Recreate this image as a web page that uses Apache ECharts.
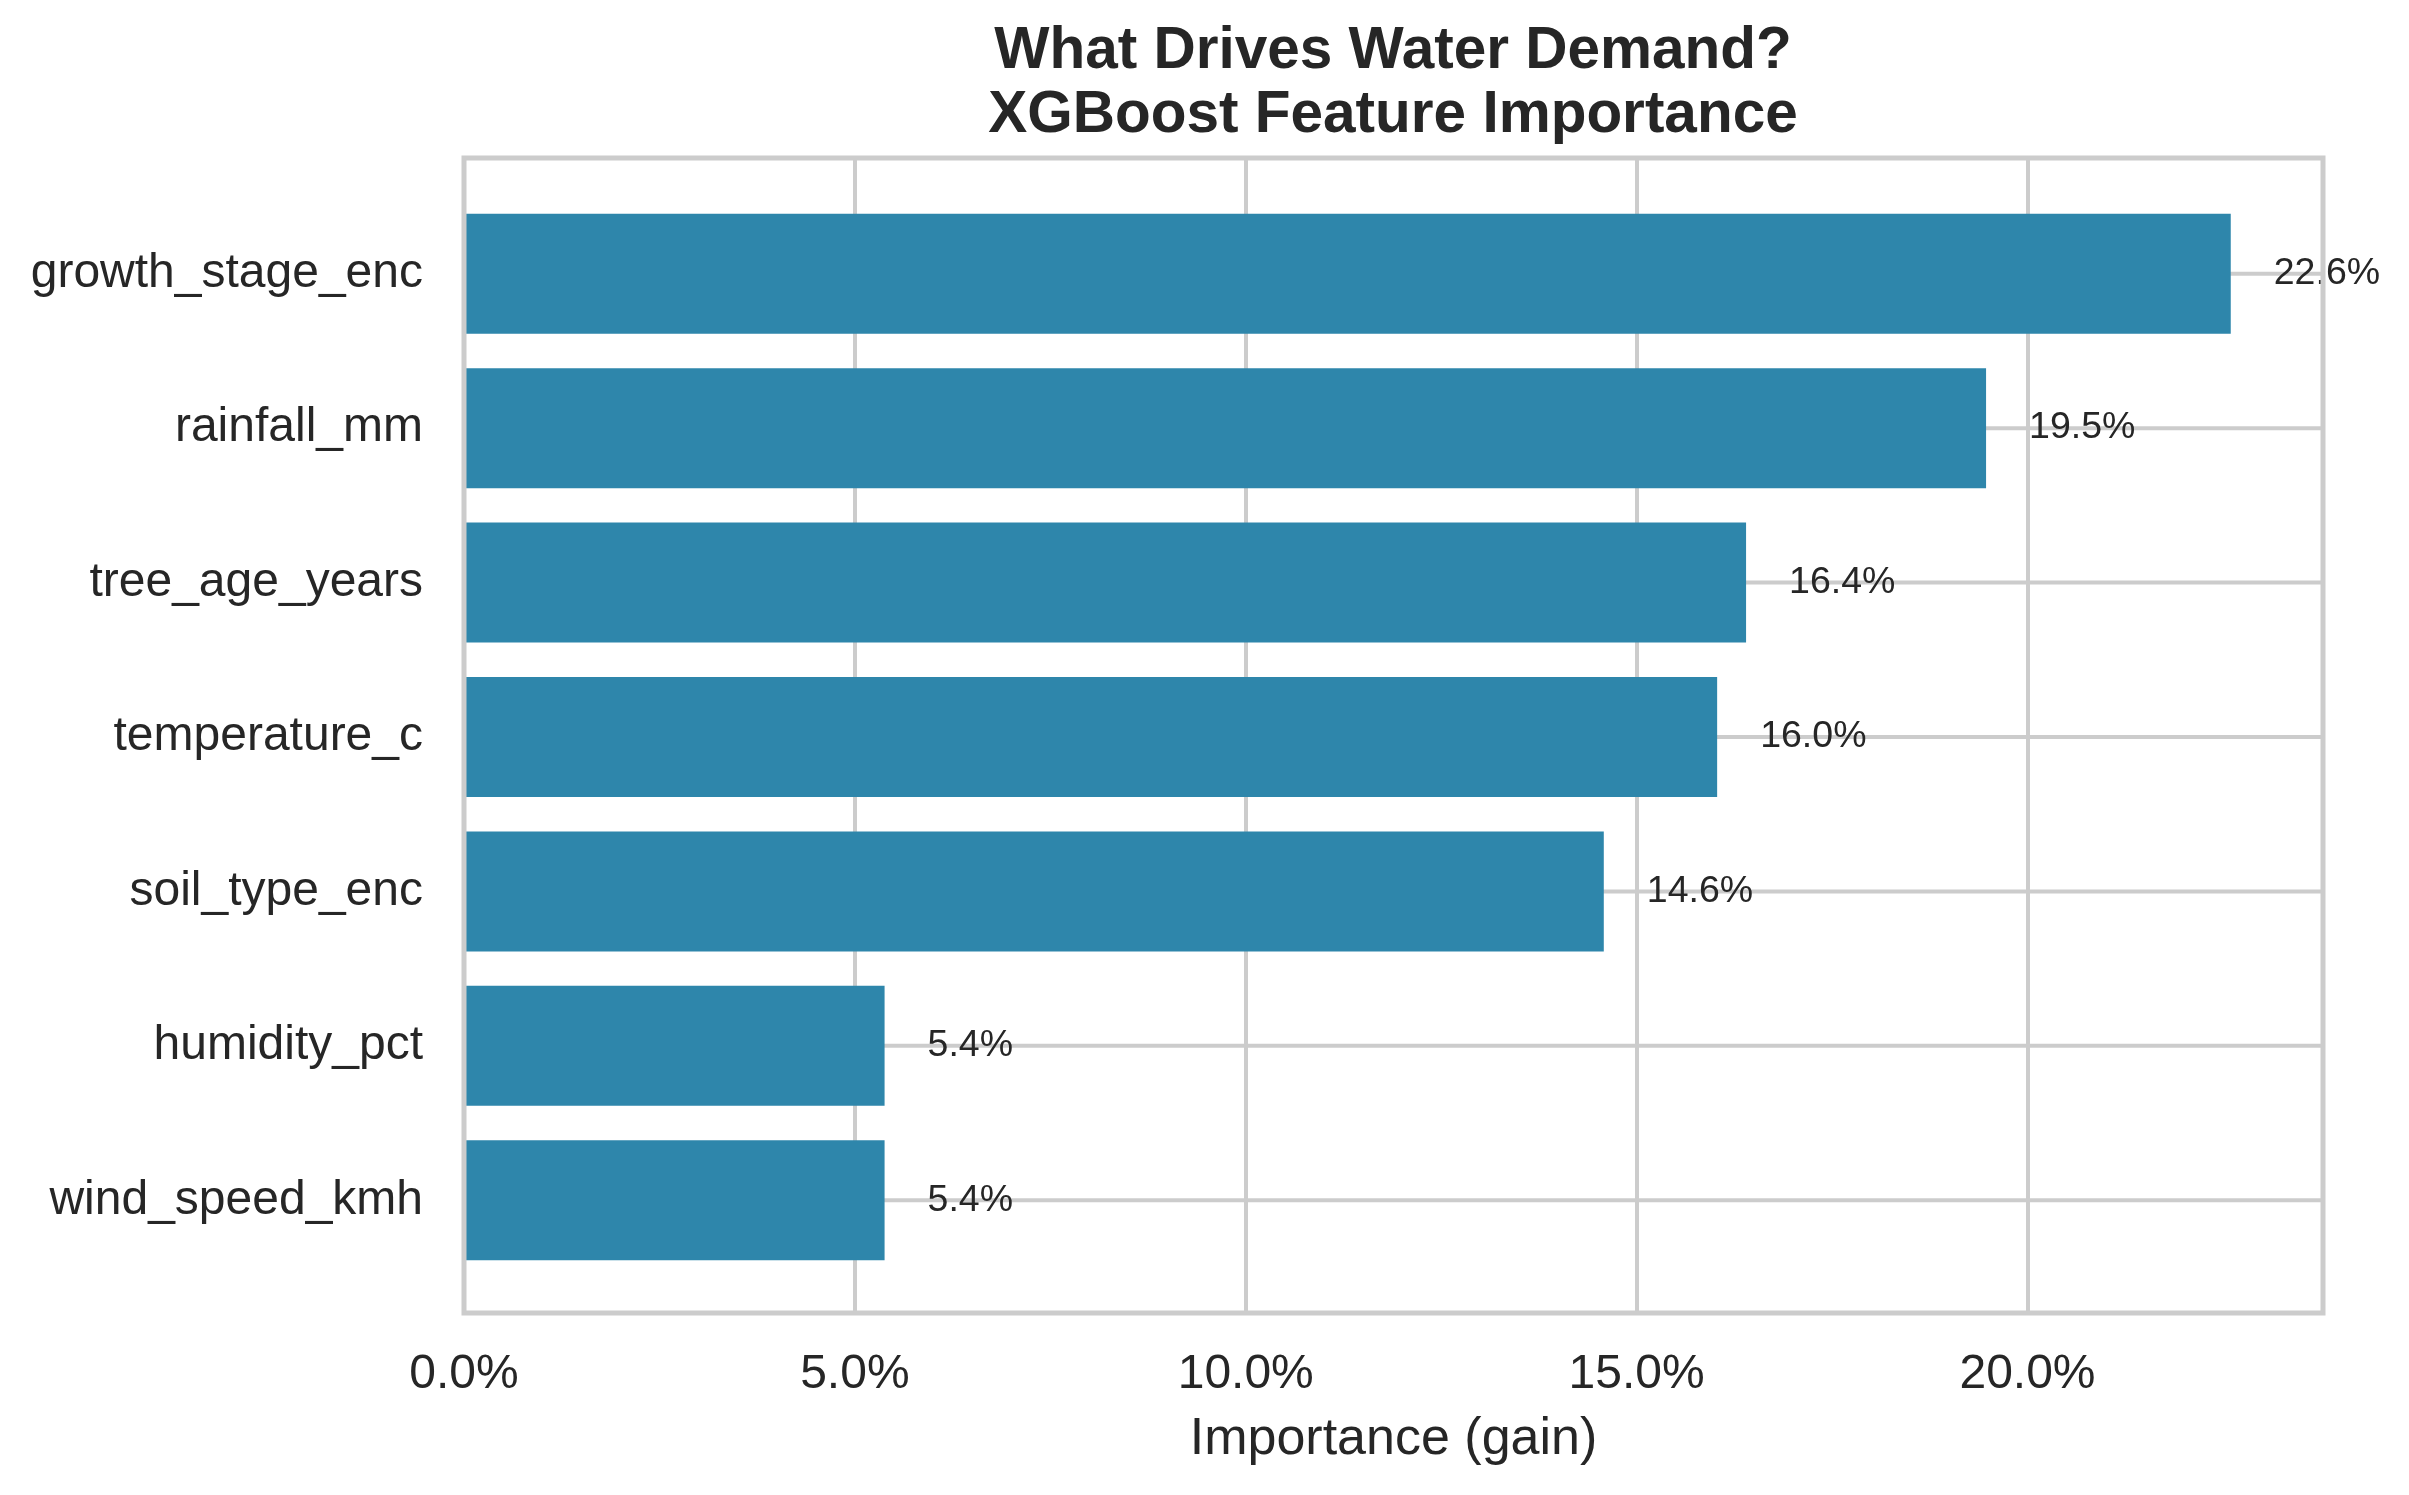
<!DOCTYPE html>
<html>
<head>
<meta charset="utf-8">
<script src="https://cdn.jsdelivr.net/npm/echarts@6/dist/echarts.min.js"></script>
<style>
html,body{margin:0;padding:0;background:#fff;}
#chart{width:2409px;height:1495px;}
</style>
</head>
<body>
<div id="chart"></div>
<script>
const categories = ['growth_stage_enc','rainfall_mm','tree_age_years','temperature_c','soil_type_enc','humidity_pct','wind_speed_kmh'];
const importance = [22.6, 19.47, 16.4, 16.03, 14.58, 5.38, 5.38];
const xTickStep = 5;
const xMax = 23.78;
const titleText = 'What Drives Water Demand?\nXGBoost Feature Importance';
const xAxisName = 'Importance (gain)';

const FONT = 'Liberation Sans, Arial, sans-serif';
const TXT = '#262626';
const GRIDC = '#cccccc';

const chart = echarts.init(document.getElementById('chart'), null, {renderer: 'canvas'});
const gridIdx = categories.map((c, i) => i);

chart.setOption({
  backgroundColor: '#ffffff',
  animation: false,
  textStyle: {fontFamily: FONT},
  title: {
    text: titleText,
    left: 1393,
    top: 20,
    padding: 0,
    textAlign: 'center',
    textStyle: {fontSize: 58.5, fontWeight: 'bold', color: TXT, lineHeight: 64, fontFamily: FONT}
  },
  grid: [
    {left: 464, top: 158, width: 1859, height: 1155, show: true, borderColor: GRIDC, borderWidth: 5, backgroundColor: 'transparent', z: 3},
    {left: 464, top: 196.5, width: 1859, height: 1081}
  ],
  xAxis: [
    {
      gridIndex: 0, type: 'value', min: 0, max: xMax, interval: xTickStep,
      axisLine: {show: false}, axisTick: {show: false},
      splitLine: {show: true, lineStyle: {color: GRIDC, width: 4}},
      axisLabel: {fontSize: 48, color: TXT, margin: 38, showMaxLabel: false, fontFamily: FONT,
        formatter: v => v.toFixed(1) + '%'},
      name: xAxisName, nameLocation: 'middle', nameGap: 101,
      nameTextStyle: {fontSize: 52, color: TXT, fontFamily: FONT}
    },
    {
      gridIndex: 1, type: 'value', min: 0, max: xMax, show: false
    }
  ],
  yAxis: [
    {gridIndex: 0, type: 'value', min: 0, max: 1, show: false},
    {
      gridIndex: 1, type: 'category', data: categories, inverse: true,
      axisLine: {show: false}, axisTick: {show: false}, splitLine: {show: false},
      axisLabel: {fontSize: 48, color: TXT, margin: 41, fontFamily: FONT}
    }
  ],
  series: [
    {
      type: 'custom', xAxisIndex: 1, yAxisIndex: 1, z: 1, silent: true,
      data: gridIdx,
      renderItem: function (params, api) {
        const i = api.value(0);
        const p0 = api.coord([0, i]);
        const p1 = api.coord([xMax, i]);
        return {type: 'line', shape: {x1: p0[0], y1: p0[1], x2: p1[0], y2: p1[1]},
          style: {stroke: GRIDC, lineWidth: 4}};
      },
      encode: {y: 0}
    },
    {
      type: 'bar', xAxisIndex: 1, yAxisIndex: 1, z: 2,
      data: importance,
      barWidth: 120,
      itemStyle: {color: '#2E86AB'},
      label: {
        show: true, position: 'right', distance: 43,
        fontSize: 37.5, color: TXT, fontFamily: FONT,
        formatter: p => p.value.toFixed(1) + '%'
      }
    }
  ]
});
</script>
</body>
</html>
